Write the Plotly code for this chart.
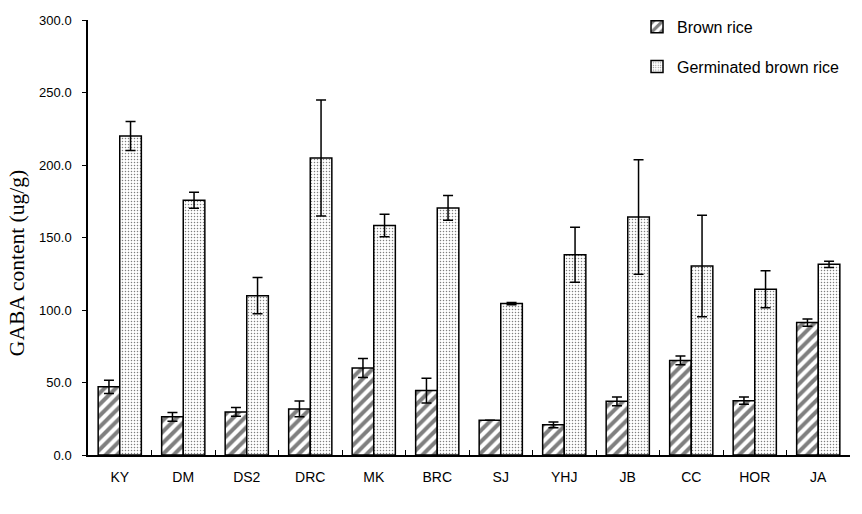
import plotly.graph_objects as go

categories = ["KY", "DM", "DS2", "DRC", "MK", "BRC", "SJ", "YHJ", "JB", "CC", "HOR", "JA"]
brown = [47.0, 26.3, 29.7, 31.8, 60.0, 44.4, 23.9, 20.8, 37.0, 65.2, 37.5, 91.3]
brown_err = [4.5, 3.0, 3.0, 5.5, 6.5, 8.5, 0.0, 2.0, 3.0, 3.0, 2.5, 2.5]
germ = [220.0, 175.7, 109.9, 204.8, 158.3, 170.4, 104.4, 138.1, 164.2, 130.3, 114.3, 131.5]
germ_err = [10.0, 5.5, 12.5, 40.0, 7.7, 8.5, 0.8, 19.0, 39.5, 35.0, 12.7, 2.2]
y_ticks = [0, 50, 100, 150, 200, 250, 300]
y_tick_labels = ["0.0", "50.0", "100.0", "150.0", "200.0", "250.0", "300.0"]

sans = "Liberation Sans, Arial, sans-serif"

fig = go.Figure()
fig.add_trace(go.Bar(
    name="Brown rice", x=categories, y=brown,
    marker=dict(color="white", line=dict(color="black", width=1.5),
                pattern=dict(shape="/", fgcolor="black", bgcolor="white", size=8, solidity=0.5)),
    error_y=dict(type="data", array=brown_err, visible=True, color="black", thickness=1.5, width=5),
    legendgroup="a",
))
fig.add_trace(go.Bar(
    name="Germinated brown rice", x=categories, y=germ,
    marker=dict(color="white", line=dict(color="black", width=1.5),
                pattern=dict(shape=".", fgcolor="black", bgcolor="white", size=3, solidity=0.2)),
    error_y=dict(type="data", array=germ_err, visible=True, color="black", thickness=1.5, width=5),
    legendgroup="b",
))

fig.update_layout(
    width=862, height=514,
    margin=dict(l=88, r=12, t=20, b=59, autoexpand=False),
    paper_bgcolor="white", plot_bgcolor="white",
    barmode="group", bargap=0.32, bargroupgap=0,
    font=dict(family=sans, size=14, color="black"),
    showlegend=True,
    legend=dict(x=0.7205, y=1.0235, xanchor="left", yanchor="top", bgcolor="rgba(0,0,0,0)",
                font=dict(size=16, family=sans), tracegroupgap=16, itemwidth=30),
    annotations=[dict(
        text="GABA content (ug/g)", xref="paper", yref="paper", x=-0.0932, y=0.441,
        xanchor="center", yanchor="middle", textangle=-90, showarrow=False,
        font=dict(family="Liberation Serif, Times New Roman, serif", size=21.5, color="black"),
    )],
)
fig.update_xaxes(
    showline=True, linecolor="black", linewidth=1.5,
    ticks="inside", tickson="boundaries", ticklen=5, tickcolor="black",
    showgrid=False, tickfont=dict(size=14, family=sans), ticklabelstandoff=8,
)
fig.update_yaxes(
    range=[0, 300], tickvals=y_ticks, ticktext=y_tick_labels,
    showline=True, linecolor="black", linewidth=1.5,
    ticks="outside", ticklen=4, tickcolor="black", showgrid=False, zeroline=False,
    tickfont=dict(size=13, family=sans), ticklabelstandoff=8,
)

fig.write_html("out.html")
